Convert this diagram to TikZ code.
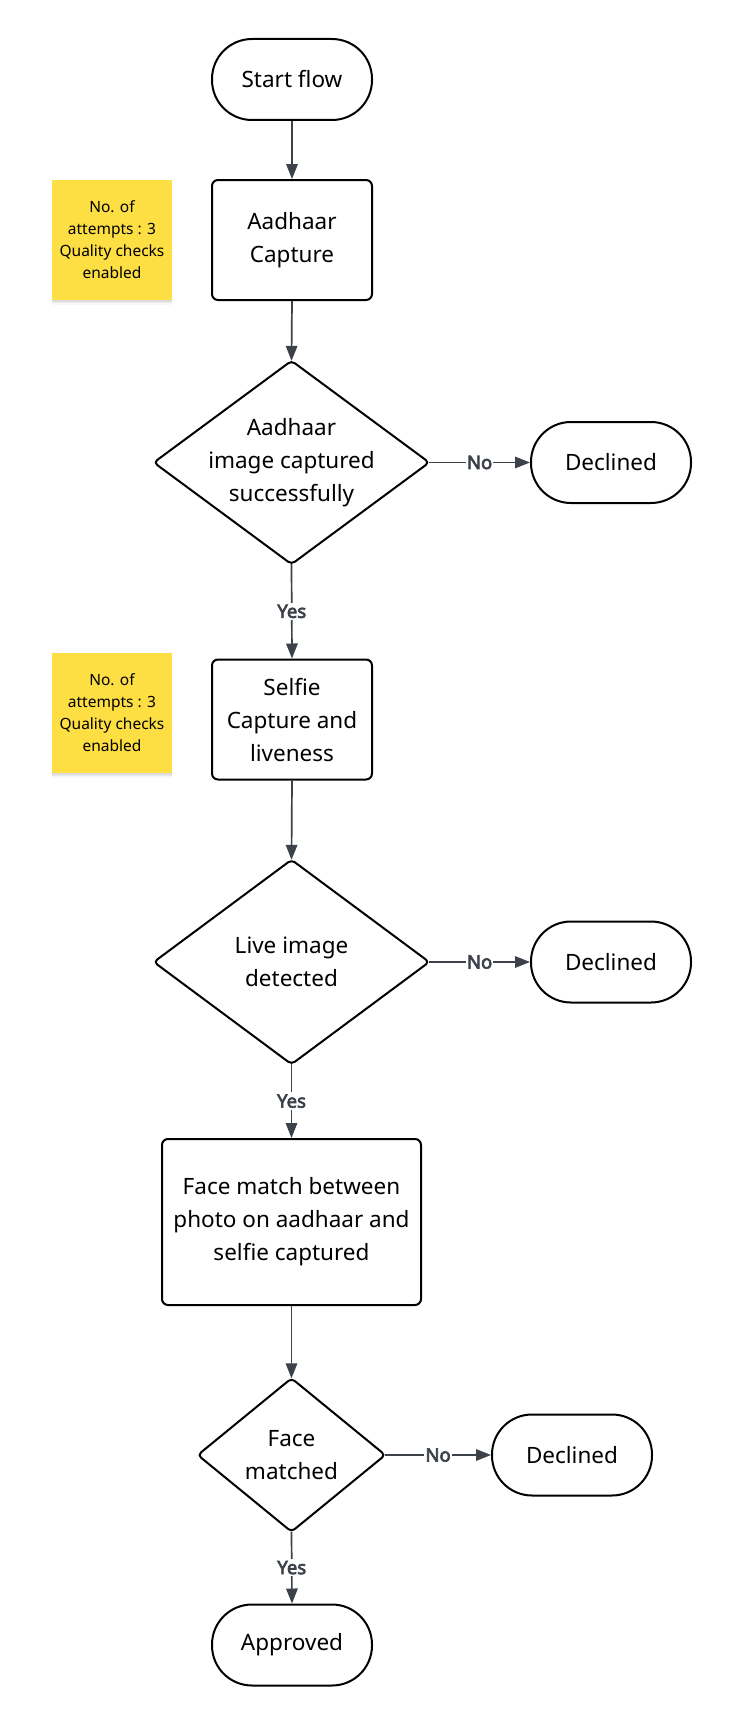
\documentclass[tikz,border=0pt]{standalone}
\usepackage{fontspec}
\setmainfont{Noto Sans}[AutoFakeBold=2.5]
\newfontfamily\lblfont{Noto Sans}[AutoFakeBold=3.5]
\usetikzlibrary{arrows.meta,shadows}
\definecolor{linec}{RGB}{61,66,74}
\definecolor{stickyc}{RGB}{253,223,67}
\begin{document}
\begin{tikzpicture}[x=1pt,y=-1pt,
  base/.style={font=\fontsize{22.5}{33}\selectfont, align=center, text=black},
  term/.style={base, draw=black, line width=2pt, rounded corners=40pt, minimum width=160pt, minimum height=81pt, inner sep=0pt},
  procbox/.style={base, draw=black, line width=2pt, rounded corners=6pt, inner sep=0pt},
  decbox/.style={base, inner sep=0pt},
  decline/.style={draw=black, line width=2pt, rounded corners=4pt, line join=round},
  stickynote/.style={fill=stickyc, minimum width=120pt, minimum height=120pt, align=center, text=black, font=\fontsize{15.5}{22}\selectfont, inner sep=0pt,
    drop shadow={shadow xshift=0pt, shadow yshift=-1.5pt, opacity=0.12},
    drop shadow={shadow xshift=0pt, shadow yshift=-3pt, opacity=0.10},
    drop shadow={shadow xshift=0pt, shadow yshift=-4.5pt, opacity=0.06}},
  conn/.style={draw=linec, line width=1.7pt, -{Triangle[length=15pt,width=11.5pt]}},
  lbl/.style={fill=white, text=linec, inner xsep=1pt, inner ysep=2pt, font=\lblfont\fontsize{18.5}{20}\selectfont\bfseries}
]
\useasboundingbox (0,0) rectangle (732,1726);
\fill[white] (0,0) rectangle (732,1726);

% nodes
\node[term] (start) at (292,79.5) {Start flow};
\node[procbox, minimum width=160pt, minimum height=120pt] (aad) at (292,240) {Aadhaar\\Capture};
\node[stickynote] (note1) at (112,240) {No. of\\attempts : 3\\Quality checks\\enabled};

\node[decbox, minimum width=275pt, minimum height=203pt] (d1) at (291.5,462.5) {Aadhaar\\image captured\\successfully};
\draw[decline] (d1.north) -- (d1.east) -- (d1.south) -- (d1.west) -- cycle;
\node[term] (dec1) at (611,462.5) {Declined};

\node[procbox, minimum width=160pt, minimum height=120pt] (selfie) at (292,719.5) {Selfie\\Capture and\\liveness};
\node[stickynote] (note2) at (112,713) {No. of\\attempts : 3\\Quality checks\\enabled};

\node[decbox, minimum width=275pt, minimum height=204pt] (d2) at (291.5,962) {Live image\\detected};
\draw[decline] (d2.north) -- (d2.east) -- (d2.south) -- (d2.west) -- cycle;
\node[term] (dec2) at (611,962) {Declined};

\node[procbox, minimum width=259pt, minimum height=166pt] (face) at (291.5,1222) {Face match between\\photo on aadhaar and\\selfie captured};

\node[decbox, minimum width=187pt, minimum height=153pt] (d3) at (291.5,1455) {Face\\matched};
\draw[decline] (d3.north) -- (d3.east) -- (d3.south) -- (d3.west) -- cycle;
\node[term] (dec3) at (572,1455) {Declined};

\node[term] (appr) at (292,1645) {Approved};

% connectors
\draw[conn] (start.south) -- (aad.north);
\draw[conn] (aad.south) -- (d1.north);
\draw[conn] (d1.east) -- node[lbl] {No} (dec1.west);
\draw[conn] (d1.south) -- node[lbl] {Yes} (selfie.north);
\draw[conn] (selfie.south) -- (d2.north);
\draw[conn] (d2.east) -- node[lbl] {No} (dec2.west);
\draw[conn] (d2.south) -- node[lbl] {Yes} (face.north);
\draw[conn] (face.south) -- (d3.north);
\draw[conn] (d3.east) -- node[lbl] {No} (dec3.west);
\draw[conn] (d3.south) -- node[lbl] {Yes} (appr.north);
\end{tikzpicture}
\end{document}
